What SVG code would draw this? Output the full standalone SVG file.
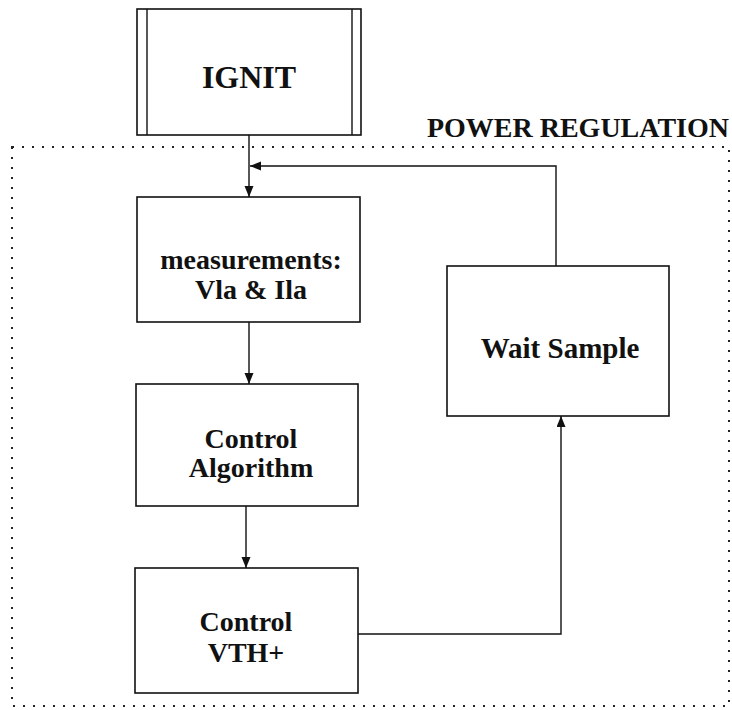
<svg xmlns="http://www.w3.org/2000/svg" width="732" height="710" viewBox="0 0 732 710">
  <style>
    .box { fill: #ffffff; stroke: #111111; stroke-width: 1.6; }
    .edge { fill: none; stroke: #111111; stroke-width: 1.4; }
    .frame { fill: none; stroke: #222222; stroke-width: 2; stroke-dasharray: 2 8; }
    .label { font-family: "Liberation Serif", "Times New Roman", serif; font-weight: bold; font-size: 28px; fill: #111111; text-anchor: middle; }
  </style>
  <defs>
    <marker id="arrow" markerWidth="12" markerHeight="10" refX="11" refY="4.5" orient="auto" markerUnits="userSpaceOnUse">
      <path d="M0,0 L11,4.5 L0,9 Z" fill="#111111"/>
    </marker>
  </defs>

  <rect width="732" height="710" fill="#ffffff"/>

  <!-- power regulation boundary -->
  <g id="power-regulation">
    <rect class="frame" x="12" y="147" width="717" height="559"/>
    <text class="label" x="729" y="137" style="text-anchor: end;">POWER REGULATION</text>
  </g>

  <!-- predefined-process node -->
  <g id="ignit">
    <rect class="box" x="137" y="9" width="224" height="126"/>
    <line class="edge" x1="147" y1="9" x2="147" y2="135"/>
    <line class="edge" x1="352" y1="9" x2="352" y2="135"/>
    <text class="label" x="249" y="88" style="font-size: 32px;">IGNIT</text>
  </g>

  <g id="measurements">
    <rect class="box" x="137" y="197" width="223" height="125"/>
    <text class="label" x="251" y="269">measurements:</text>
    <text class="label" x="251" y="299">Vla &amp; Ila</text>
  </g>

  <g id="control-algorithm">
    <rect class="box" x="136" y="384" width="222" height="122"/>
    <text class="label" x="251" y="448">Control</text>
    <text class="label" x="251" y="477">Algorithm</text>
  </g>

  <g id="control-vth">
    <rect class="box" x="135" y="568" width="223" height="125"/>
    <text class="label" x="246" y="631">Control</text>
    <text class="label" x="246" y="662">VTH+</text>
  </g>

  <g id="wait-sample">
    <rect class="box" x="447" y="266" width="222" height="150"/>
    <text class="label" x="560" y="358" style="font-size: 29px;">Wait Sample</text>
  </g>

  <!-- connectors -->
  <g id="connectors">
    <line class="edge" x1="249" y1="135" x2="249" y2="197" marker-end="url(#arrow)"/>
    <polyline class="edge" points="556,266 556,166 250,166" marker-end="url(#arrow)"/>
    <line class="edge" x1="249" y1="322" x2="249" y2="384" marker-end="url(#arrow)"/>
    <line class="edge" x1="246" y1="506" x2="246" y2="568" marker-end="url(#arrow)"/>
    <polyline class="edge" points="358,634 561,634 561,416" marker-end="url(#arrow)"/>
  </g>
</svg>
